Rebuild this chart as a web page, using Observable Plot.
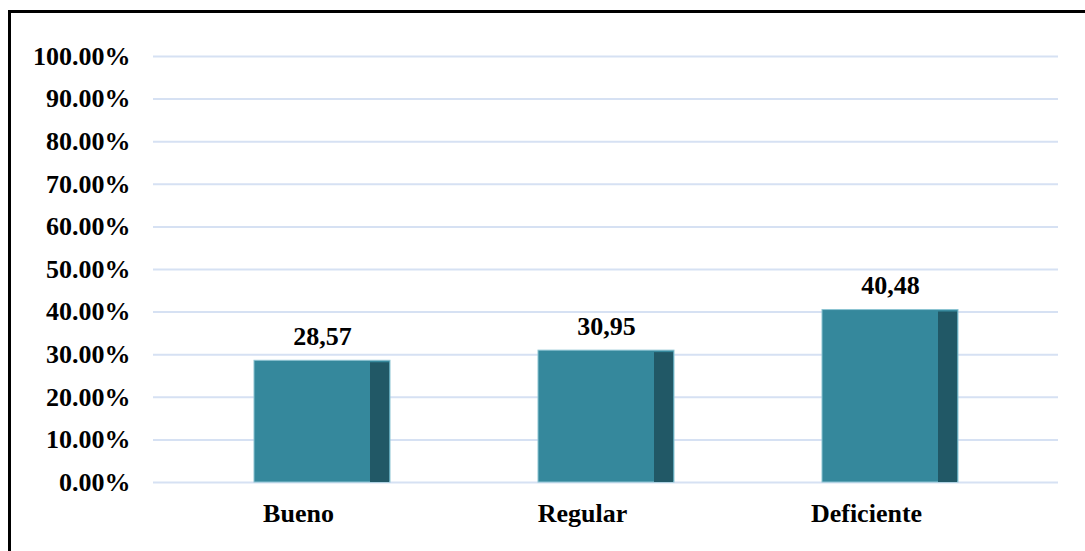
<!DOCTYPE html>
<html>
<head>
<meta charset="utf-8">
<script src="https://cdn.jsdelivr.net/npm/d3@7"></script>
<script src="https://cdn.jsdelivr.net/npm/@observablehq/plot@0.6"></script>
<style>
  html, body { margin: 0; padding: 0; background: #fff; overflow: hidden; }
  #wrap { position: relative; width: 1085px; height: 551px; }
  #border { position: absolute; left: 8px; top: 10px; width: 1200px; height: 700px;
            border: 3px solid #000; box-sizing: border-box; pointer-events: none; }
</style>
</head>
<body>
<div id="wrap"><div id="border"></div></div>
<script>
const categories = ["Bueno", "Regular", "Deficiente"];
const values = [28.57, 30.95, 40.48];
const valueLabels = ["28,57", "30,95", "40,48"];
const yTicks = [0, 10, 20, 30, 40, 50, 60, 70, 80, 90, 100];

const data = categories.map((c, i) => ({category: c, value: values[i], label: valueLabels[i]}));
const font = "'Liberation Serif', 'Times New Roman', serif";

const chart = Plot.plot({
  width: 1085,
  height: 551,
  marginTop: 56,
  marginBottom: 69,
  marginLeft: 153,
  marginRight: 27,
  style: {fontFamily: font, fontSize: "26px", fontWeight: "bold", color: "#000", background: "transparent"},
  x: {domain: categories, range: [178.75, 1032.25], paddingInner: 0.522, paddingOuter: 0.261, label: null},
  y: {domain: [0, 100], label: null},
  marks: [
    Plot.ruleY(yTicks, {stroke: "#D6E1F3", strokeWidth: 2}),
    Plot.barY(data, {x: "category", y: "value", fill: "#35889C", stroke: "#8CC3D2", strokeWidth: 1}),
    Plot.barY(data, {x: "category", y: "value", fill: "#215866", insetLeft: 116, insetRight: 1, insetTop: 2}),
    Plot.text(data, {x: "category", y: "value", text: "label", lineAnchor: "bottom", dy: -16, fill: "#000"}),
    Plot.axisY({ticks: yTicks, tickFormat: d => d.toFixed(2) + "%", tickSize: 0, tickPadding: 23, label: null}),
    Plot.axisX({tickSize: 0, tickPadding: 21, dx: -24, label: null})
  ]
});
document.getElementById("wrap").prepend(chart);
</script>
</body>
</html>
